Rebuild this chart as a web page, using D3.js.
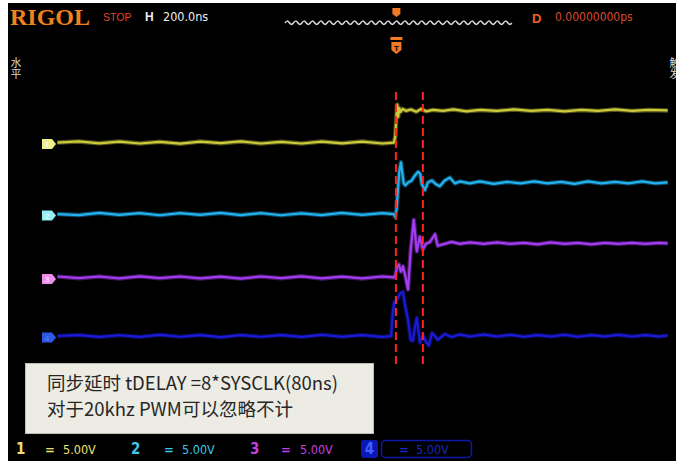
<!DOCTYPE html>
<html>
<head>
<meta charset="utf-8">
<script src="https://cdn.jsdelivr.net/npm/d3@7"></script>
<style>
html, body { margin: 0; padding: 0; background: #fff; }
svg { display: block; }
</style>
</head>
<body>
<div id="scope"></div>
<script>
// traces: [time in ns, volts above the channel ground]
var ch1Trace = [
  [-1004,0],[-940,0.12],[-880,-0.08],[-820,0.1],[-760,-0.1],[-700,0.08],[-640,-0.12],[-580,0.1],
  [-520,-0.06],[-460,0.12],[-400,-0.1],[-340,0.08],[-280,-0.1],[-220,0.1],[-160,-0.08],[-100,0.1],
  [-40,-0.1],[-6,0],[-2,0.6],[1,2.4],[4,3.95],[7,2.7],[10,3.6],[14,3.2],[20,3.5],[30,3.3],[45,3.45],
  [60,3.2],[75,3.5],[90,3.25],[110,3.4],[140,3.3],[170,3.45],[210,3.25],[250,3.4],[300,3.3],
  [350,3.45],[400,3.3],[450,3.4],[500,3.25],[550,3.4],[600,3.3],[650,3.45],[700,3.3],[750,3.4],[806,3.35]
];
var ch2Trace = [
  [-1004,0],[-940,-0.1],[-880,0.12],[-820,-0.08],[-760,0.1],[-700,-0.12],[-640,0.1],[-580,-0.08],
  [-520,0.12],[-460,-0.1],[-400,0.1],[-340,-0.12],[-280,0.08],[-220,-0.1],[-160,0.12],[-100,-0.08],
  [-40,0.1],[-6,0],[-2,-0.3],[2,0.5],[6,2.5],[10,4.4],[15,5.4],[19,4.3],[23,3.2],[28,3.0],[36,3.3],
  [47,3.5],[56,4.0],[66,4.4],[72,4.2],[77,3.1],[86,2.5],[95,3.3],[107,3.5],[119,3.1],[130,2.9],
  [145,3.5],[160,3.8],[175,3.2],[190,3.4],[219,3.2],[249,3.4],[290,3.15],[330,3.35],[370,3.2],
  [410,3.4],[450,3.2],[490,3.35],[530,3.15],[570,3.4],[610,3.2],[650,3.35],[690,3.2],[730,3.4],
  [770,3.2],[806,3.3]
];
var ch3Trace = [
  [-1004,0.1],[-940,-0.08],[-880,0.1],[-820,-0.1],[-760,0.12],[-700,-0.08],[-640,0.1],[-580,-0.1],
  [-520,0.08],[-460,-0.12],[-400,0.1],[-340,-0.08],[-280,0.12],[-220,-0.1],[-160,0.08],[-100,-0.1],
  [-40,0.1],[-6,0],[-2,0.2],[3,1.0],[9,1.35],[15,0.6],[21,1.15],[27,0.3],[36,-1.25],[44,2.9],
  [53,6.0],[62,2.7],[71,4.25],[80,2.9],[89,3.5],[101,3.7],[116,4.5],[124,3.3],[145,3.5],[165,3.7],
  [190,3.5],[220,3.65],[260,3.5],[300,3.65],[340,3.5],[380,3.6],[420,3.45],[460,3.65],[500,3.5],
  [540,3.6],[580,3.45],[620,3.6],[660,3.5],[700,3.6],[740,3.5],[780,3.6],[806,3.55]
];
var ch4Trace = [
  [-1004,0],[-940,0.1],[-880,-0.1],[-820,0.08],[-760,-0.1],[-700,0.12],[-640,-0.08],[-580,0.1],
  [-520,-0.12],[-460,0.1],[-400,-0.08],[-340,0.1],[-280,-0.1],[-220,0.12],[-160,-0.08],[-100,0.1],
  [-40,-0.1],[-14,0],[-9,2.5],[-5,3.5],[3,3.8],[12,4.4],[21,4.6],[27,3.25],[36,1.65],[44,-0.4],
  [50,-0.5],[56,0.8],[62,1.9],[68,0.3],[71,-0.7],[80,0.1],[89,-0.6],[98,-1.0],[107,0.3],[116,0.0],
  [124,-0.4],[145,0.2],[165,-0.1],[190,0.15],[220,-0.05],[260,0.15],[300,-0.05],[340,0.12],
  [380,-0.08],[420,0.1],[460,-0.05],[500,0.12],[540,-0.08],[580,0.1],[620,-0.05],[660,0.12],
  [700,-0.05],[740,0.1],[780,-0.05],[806,0.05]
];
var traces = [ch1Trace, ch2Trace, ch3Trace, ch4Trace];
var channelOffsets = [10.15, 2.7, -3.9, -10.0];   // volts
var channelNames = ["1", "2", "3", "4"];
var channelScales = ["5.00V", "5.00V", "5.00V", "5.00V"];
var cursorTimes = [0, 80];                          // ns
var noteLines = ["同步延时 tDELAY =8*SYSCLK(80ns)", "对于20khz PWM可以忽略不计"];
var sideLabels = ["水平", "触发"];

var traceColors = ["#cccb3c", "#22b2f0", "#a43cf2", "#1a1ad8"];
var markerColors = ["#eeee8c", "#90f0f4", "#f08cf0", "#2c58e8"];
var labelColors = ["#ece070", "#3cc8ec", "#c040e4", "#2038d0"];

var W = 676, H = 461;
var x = d3.scaleLinear().domain([-1100, 810]).range([25, 669]);
var y = d3.scaleLinear().domain([-25, 25]).range([480, 0]);

var svg = d3.select("#scope").append("svg")
  .attr("width", W)
  .attr("height", H);

svg.append("rect").attr("width", W).attr("height", H).attr("fill", "#fff");
svg.append("rect").attr("x", 8).attr("y", 3).attr("width", W - 8).attr("height", H - 3).attr("fill", "#000");

// ---- header
var narrow = "'Liberation Sans Narrow', 'DejaVu Sans Condensed', 'Liberation Sans', sans-serif";
svg.append("text").attr("x", 10).attr("y", 25)
  .attr("font-family", "'Liberation Serif', 'DejaVu Serif', serif")
  .attr("font-weight", "bold").attr("font-size", 24).attr("fill", "#f0821e")
  .text("RIGOL");
svg.append("text").attr("x", 103).attr("y", 21)
  .attr("font-family", "'Liberation Sans', sans-serif").attr("font-size", 10.5)
  .attr("fill", "#e0442e").text("STOP");
svg.append("text").attr("x", 145).attr("y", 21)
  .attr("font-family", "'Liberation Sans', sans-serif").attr("font-weight", "bold")
  .attr("font-size", 12).attr("fill", "#eee").text("H");
svg.append("text").attr("x", 163).attr("y", 21)
  .attr("font-family", narrow).attr("font-size", 12.5).attr("fill", "#eee").text("200.0ns");

// memory bar wave
var wave = d3.path();
wave.moveTo(285, 23);
for (var wx = 285; wx < 508; wx += 8.4) {
  wave.quadraticCurveTo(wx + 2.1, 19.5, wx + 4.2, 22.5);
  wave.quadraticCurveTo(wx + 6.3, 26, wx + 8.4, 23);
}
svg.append("path").attr("d", wave.toString()).attr("fill", "none")
  .attr("stroke", "#d8d8d8").attr("stroke-width", 1.5);

svg.append("text").attr("x", 532).attr("y", 23)
  .attr("font-family", "'Liberation Sans', sans-serif").attr("font-weight", "bold")
  .attr("font-size", 13).attr("fill", "#f06028").text("D");
svg.append("text").attr("x", 555).attr("y", 21)
  .attr("font-family", narrow).attr("font-size", 12).attr("fill", "#d84a2c").text("0.00000000ps");

// trigger position markers
var trigX = x(0) + 0.5;
svg.append("path")
  .attr("d", "M" + (trigX - 4) + ",8 h8 v6 l-4,3 l-4,-3 z")
  .attr("fill", "#f07a26");
svg.append("rect").attr("x", trigX - 6).attr("y", 37).attr("width", 12).attr("height", 3).attr("fill", "#f07a26");
svg.append("path")
  .attr("d", "M" + (trigX - 5) + ",42 h10 v8 l-5,4 l-5,-4 z")
  .attr("fill", "#f07a26");
svg.append("text").attr("x", trigX).attr("y", 51).attr("text-anchor", "middle")
  .attr("font-family", "'Liberation Sans', sans-serif").attr("font-weight", "bold")
  .attr("font-size", 8).attr("fill", "#000").text("T");

// side menu labels, written top to bottom (right one is cut by the screen edge)
svg.selectAll(".side").data(sideLabels).enter().append("text")
  .attr("class", "side")
  .attr("x", function(d, i) { return i == 0 ? 16 : 675; })
  .attr("y", 57)
  .attr("writing-mode", "vertical-rl")
  .attr("font-family", "'Noto Sans CJK SC', sans-serif")
  .attr("font-size", 11).attr("fill", "#d8d8d8")
  .text(function(d) { return d; });

// ---- traces
var line = d3.line()
  .x(function(d) { return x(d[0]); })
  .y(function(d) { return y(d[1]); });

traces.forEach(function(tr, i) {
  var pts = tr.map(function(d) { return [d[0], d[1] + channelOffsets[i]]; });
  svg.append("path").datum(pts).attr("d", line)
    .attr("fill", "none").attr("stroke", traceColors[i])
    .attr("stroke-opacity", 0.4).attr("stroke-width", 4.5).attr("stroke-linejoin", "round");
  svg.append("path").datum(pts).attr("d", line)
    .attr("fill", "none").attr("stroke", traceColors[i])
    .attr("stroke-width", 2.2).attr("stroke-linejoin", "round");
});

// channel ground markers
var marks = svg.selectAll(".chmark").data(channelOffsets).enter().append("g")
  .attr("class", "chmark")
  .attr("transform", function(d) { return "translate(42," + (y(d) + 1.5) + ")"; });
marks.append("path").attr("d", "M0,-5 H10 L14,0 L10,5 H0 Z")
  .attr("fill", function(d, i) { return markerColors[i]; });
marks.append("text").attr("x", 5).attr("y", 3)
  .attr("text-anchor", "middle").attr("font-family", "'Liberation Sans', sans-serif")
  .attr("font-size", 8).attr("fill", function(d, i) { return i == 3 ? "#6080ff" : "#fff"; })
  .text(function(d, i) { return channelNames[i]; });

// ---- cursors at trigger and trigger + tDELAY
svg.selectAll(".cursor").data(cursorTimes).enter().append("line")
  .attr("class", "cursor")
  .attr("x1", function(d) { return x(d); }).attr("x2", function(d) { return x(d); })
  .attr("y1", 92).attr("y2", 368)
  .attr("stroke", "#ff2418").attr("stroke-width", 2)
  .attr("stroke-dasharray", "8,4");

// ---- note box
svg.append("rect").attr("x", 25.5).attr("y", 363.5).attr("width", 348).attr("height", 70)
  .attr("fill", "#edece4").attr("stroke", "#bdbdb4");
svg.selectAll(".note").data(noteLines).enter().append("text")
  .attr("class", "note")
  .attr("x", 47).attr("y", function(d, i) { return 390 + i * 26; })
  .attr("font-family", "'Noto Sans CJK SC', 'Open Sans', sans-serif")
  .attr("font-size", 18.5).attr("fill", "#262626")
  .text(function(d) { return d; });

// ---- bottom channel status bar
var numX = [16, 131, 250], eqX = [45, 164, 281], valX = [63, 182, 300];
for (var c = 0; c < 3; c++) {
  svg.append("text").attr("x", numX[c]).attr("y", 454)
    .attr("font-family", narrow).attr("font-weight", "bold").attr("font-size", 15)
    .attr("fill", labelColors[c]).text(channelNames[c]);
  svg.append("text").attr("x", eqX[c]).attr("y", 454)
    .attr("font-family", narrow).attr("font-weight", "bold").attr("font-size", 13)
    .attr("fill", labelColors[c]).text("=");
  svg.append("text").attr("x", valX[c]).attr("y", 454)
    .attr("font-family", narrow).attr("font-size", 12.5)
    .attr("fill", labelColors[c]).text(channelScales[c]);
}
svg.append("rect").attr("x", 361).attr("y", 440).attr("width", 17).attr("height", 18).attr("rx", 3)
  .attr("fill", "#0a18b8");
svg.append("text").attr("x", 369.5).attr("y", 454).attr("text-anchor", "middle")
  .attr("font-family", narrow).attr("font-weight", "bold").attr("font-size", 15)
  .attr("fill", "#4060ff").text(channelNames[3]);
svg.append("rect").attr("x", 381.5).attr("y", 440.5).attr("width", 90).attr("height", 17).attr("rx", 4)
  .attr("fill", "none").attr("stroke", "#0c1aa8").attr("stroke-width", 1.5);
svg.append("text").attr("x", 399).attr("y", 454)
  .attr("font-family", narrow).attr("font-weight", "bold").attr("font-size", 13)
  .attr("fill", "#1628c0").text("=");
svg.append("text").attr("x", 416).attr("y", 454)
  .attr("font-family", narrow).attr("font-size", 12.5)
  .attr("fill", "#1628c0").text(channelScales[3]);
</script>
</body>
</html>
